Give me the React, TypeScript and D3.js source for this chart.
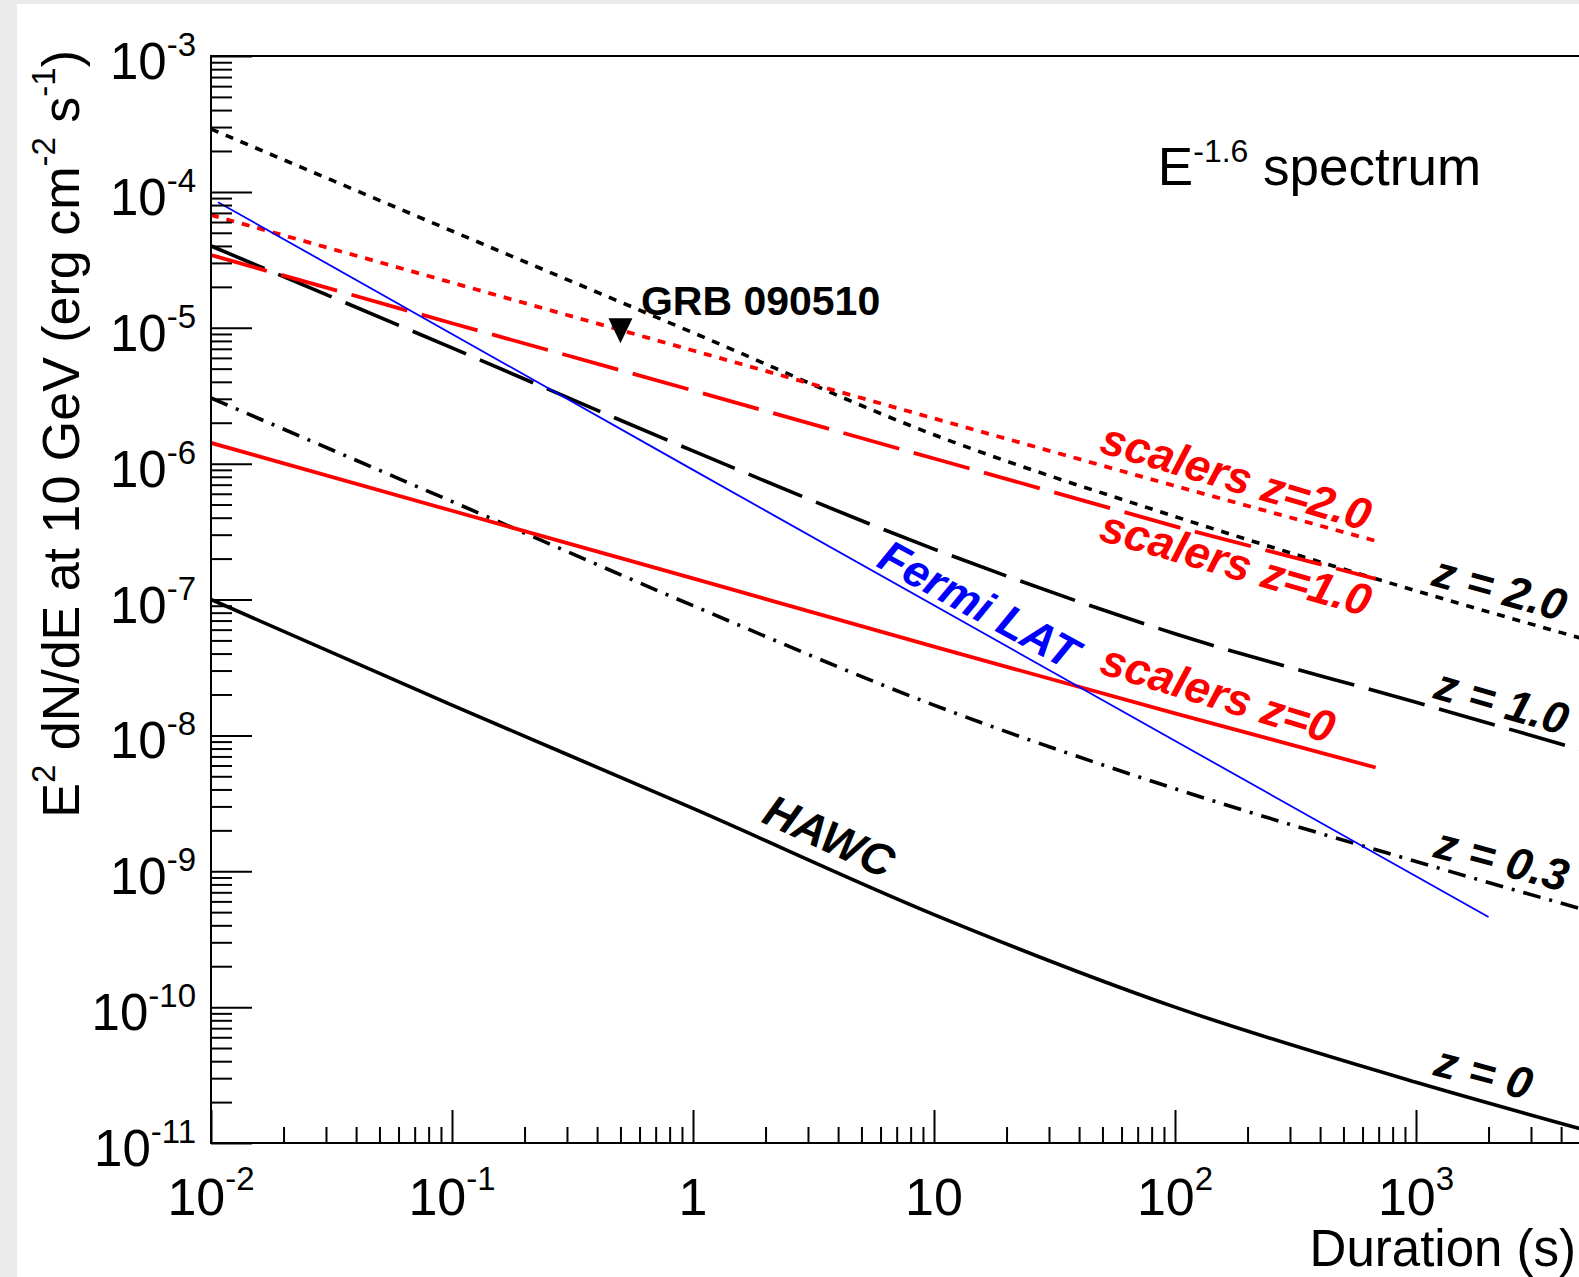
import React, { useRef, useEffect } from 'react'
import * as d3 from 'd3'

// HAWC sensitivity curves (read at these durations, s)
const hawcDurations = [0.01, 0.1, 1, 10, 100, 1000, 5000]
const hawcZ0 = [1.0e-7, 1.67e-8, 2.9e-9, 4.8e-10, 1.0e-10, 2.8e-11, 1.25e-11]
const hawcZ03 = [3.04e-6, 5.26e-7, 9.0e-8, 1.67e-8, 4.05e-9, 1.18e-9, 5.2e-10]
const hawcZ1 = [4.0e-5, 7.1e-6, 1.24e-6, 2.35e-7, 5.6e-8, 1.75e-8, 7.7e-9]
const hawcZ2 = [2.9e-4, 5.15e-5, 9.2e-6, 1.63e-6, 4.08e-7, 1.16e-7, 5.1e-8]

// scaler curves
const scalerDurations = [0.01, 0.1, 1, 10, 100, 680]
const scalersZ0 = [1.42e-6, 4.5e-7, 1.43e-7, 4.5e-8, 1.45e-8, 5.8e-9]
const scalersZ1 = [3.43e-5, 1.08e-5, 3.45e-6, 1.09e-6, 3.45e-7, 1.42e-7]
const scalersZ2 = [6.76e-5, 2.15e-5, 6.8e-6, 2.15e-6, 6.85e-7, 2.7e-7]

// Fermi LAT
const fermiDurations = [0.0107, 1, 2000]
const fermiLat = [8.4e-5, 9.0e-7, 4.6e-10]

// GRB 090510 upper limit
const grbDuration = 0.5
const grbFlux = 9.5e-6

// tick labels
const xTickValues = [1e-2, 1e-1, 1, 10, 100, 1000]
const xTickBases = ['10', '10', '1', '10', '10', '10']
const xTickExps = ['-2', '-1', '', '', '2', '3']
const yTickValues = [1e-3, 1e-4, 1e-5, 1e-6, 1e-7, 1e-8, 1e-9, 1e-10, 1e-11]
const yTickExps = ['-3', '-4', '-5', '-6', '-7', '-8', '-9', '-10', '-11']

const FONT = '"Liberation Sans", Arial, Helvetica, sans-serif'

const App = () => {
	const svgRef = useRef<SVGSVGElement>(null)

	useEffect(() => {
		const svg = d3.select(svgRef.current)
		svg.selectAll('*').remove()

		const width = 1579
		const height = 1277
		const plot = { left: 211, top: 56, bottom: 1143, right: 1657 }

		svg.attr('width', width).attr('height', height).style('font-family', FONT)

		// canvas background
		svg.append('rect').attr('width', width).attr('height', height).attr('fill', '#ebebeb')
		svg.append('rect').attr('x', 17).attr('y', 4).attr('width', width).attr('height', height).attr('fill', '#fff')

		const x = d3.scaleLog().domain([1e-2, 1e4]).range([plot.left, plot.right])
		const y = d3.scaleLog().domain([1e-11, 1e-3]).range([plot.bottom, plot.top])

		svg
			.append('clipPath')
			.attr('id', 'plotClip')
			.append('rect')
			.attr('x', plot.left)
			.attr('y', plot.top)
			.attr('width', plot.right - plot.left)
			.attr('height', plot.bottom - plot.top)

		const series = [
			{ t: hawcDurations, f: hawcZ0, color: '#000', w: 3.6, dash: null, curve: d3.curveMonotoneX },
			{ t: hawcDurations, f: hawcZ03, color: '#000', w: 3.6, dash: '18 9 3 9', curve: d3.curveMonotoneX },
			{ t: hawcDurations, f: hawcZ1, color: '#000', w: 3.6, dash: '58 15', curve: d3.curveMonotoneX },
			{ t: hawcDurations, f: hawcZ2, color: '#000', w: 3.6, dash: '8 8', curve: d3.curveMonotoneX },
			{ t: scalerDurations, f: scalersZ0, color: '#ff0000', w: 3.8, dash: null, curve: d3.curveLinear },
			{ t: scalerDurations, f: scalersZ1, color: '#ff0000', w: 3.8, dash: '58 15', curve: d3.curveLinear },
			{ t: scalerDurations, f: scalersZ2, color: '#ff0000', w: 3.8, dash: '8 8', curve: d3.curveLinear },
			{ t: fermiDurations, f: fermiLat, color: '#0000ff', w: 1.8, dash: null, curve: d3.curveLinear },
		]

		const lines = svg.append('g').attr('clip-path', 'url(#plotClip)')
		series.forEach(s => {
			const pts = s.t.map((t, i) => [t, s.f[i]] as [number, number])
			const gen = d3
				.line<[number, number]>()
				.x(d => x(d[0]))
				.y(d => y(d[1]))
				.curve(s.curve)
			lines
				.append('path')
				.datum(pts)
				.attr('fill', 'none')
				.attr('stroke', s.color)
				.attr('stroke-width', s.w)
				.attr('stroke-dasharray', s.dash)
				.attr('d', gen)
		})

		// GRB 090510 marker (downward triangle)
		const gx = x(grbDuration)
		const gy = y(grbFlux)
		lines
			.append('path')
			.attr('d', `M${gx - 12},${gy - 12.5}L${gx + 12},${gy - 12.5}L${gx},${gy + 12.5}Z`)
			.attr('fill', '#000')

		// frame
		svg
			.append('rect')
			.attr('x', plot.left)
			.attr('y', plot.top)
			.attr('width', plot.right - plot.left)
			.attr('height', plot.bottom - plot.top)
			.attr('fill', 'none')
			.attr('stroke', '#000')
			.attr('stroke-width', 2)

		const isMajor = (v: number) => Math.abs(Math.log10(v) - Math.round(Math.log10(v))) < 1e-6

		// y ticks
		const yTicks = y.ticks()
		const drawY = (vals: number[], len: number) => {
			const g = svg
				.append('g')
				.attr('transform', `translate(${plot.left},0)`)
				.call(d3.axisLeft(y).tickValues(vals).tickSize(-len).tickFormat(() => ''))
			g.select('.domain').remove()
			g.selectAll('line').attr('stroke', '#000').attr('stroke-width', 2)
		}
		drawY(yTicks.filter(v => !isMajor(v)), 21)
		drawY(yTicks.filter(isMajor), 41)

		// x ticks
		const xTicks = x.ticks()
		const drawX = (vals: number[], len: number) => {
			const g = svg
				.append('g')
				.attr('transform', `translate(0,${plot.bottom})`)
				.call(d3.axisBottom(x).tickValues(vals).tickSize(-len).tickFormat(() => ''))
			g.select('.domain').remove()
			g.selectAll('line').attr('stroke', '#000').attr('stroke-width', 2)
		}
		drawX(xTicks.filter(v => !isMajor(v)), 16)
		drawX(xTicks.filter(isMajor), 33)

		// y tick labels
		yTickValues.forEach((v, i) => {
			const t = svg
				.append('text')
				.attr('x', 196)
				.attr('y', y(v) + 23)
				.attr('text-anchor', 'end')
				.attr('font-size', 51)
				.text('10')
			t.append('tspan').attr('dy', -23).attr('font-size', 33).text(yTickExps[i])
		})

		// x tick labels
		xTickValues.forEach((v, i) => {
			const t = svg
				.append('text')
				.attr('x', x(v))
				.attr('y', 1215)
				.attr('text-anchor', 'middle')
				.attr('font-size', 52)
				.text(xTickBases[i])
			if (xTickExps[i]) t.append('tspan').attr('dy', -25).attr('font-size', 33).text(xTickExps[i])
		})

		// axis titles
		svg
			.append('text')
			.attr('x', 1576)
			.attr('y', 1266)
			.attr('text-anchor', 'end')
			.attr('font-size', 51)
			.text('Duration (s)')

		const yt = svg
			.append('text')
			.attr('transform', 'translate(79,50) rotate(-90)')
			.attr('text-anchor', 'end')
			.attr('font-size', 52)
			.style('white-space', 'pre')
		yt.append('tspan').text('E')
		yt.append('tspan').attr('dy', -24).attr('font-size', 33).text('2')
		yt.append('tspan').attr('dy', 24).text(' dN/dE at 10 GeV (erg cm')
		yt.append('tspan').attr('dy', -24).attr('font-size', 33).text('-2')
		yt.append('tspan').attr('dy', 24).text(' s')
		yt.append('tspan').attr('dy', -24).attr('font-size', 33).text('-1')
		yt.append('tspan').attr('dy', 24).text(')')

		// spectrum note
		const sp = svg
			.append('text')
			.attr('x', x(84.9))
			.attr('y', y(1.12e-4))
			.attr('font-size', 53)
			.style('white-space', 'pre')
		sp.append('tspan').text('E')
		sp.append('tspan').attr('dy', -23).attr('font-size', 32).text('-1.6')
		sp.append('tspan').attr('dy', 23).text(' spectrum')

		// GRB label
		svg
			.append('text')
			.attr('x', x(0.608))
			.attr('y', y(1.24e-5))
			.attr('font-size', 41)
			.attr('font-weight', 'bold')
			.text('GRB 090510')

		// curve labels
		const curveLabels = [
			{ text: 'HAWC', t: 1.9, f: 2.31e-9, angle: 24.5, color: '#000' },
			{ text: 'Fermi LAT', t: 5.69, f: 1.77e-7, angle: 28.5, color: '#0000ff' },
			{ text: 'scalers z=2.0', t: 47.9, f: 1.22e-6, angle: 16.5, color: '#ff0000' },
			{ text: 'scalers z=1.0', t: 47.7, f: 2.75e-7, angle: 16, color: '#ff0000' },
			{ text: 'scalers z=0', t: 47.9, f: 2.88e-8, angle: 17, color: '#ff0000' },
			{ text: 'z = 2.0', t: 1143, f: 1.28e-7, angle: 15.5, color: '#000' },
			{ text: 'z = 1.0', t: 1164, f: 1.89e-8, angle: 16, color: '#000' },
			{ text: 'z = 0.3', t: 1164, f: 1.28e-9, angle: 15, color: '#000' },
			{ text: 'z = 0', t: 1164, f: 3.18e-11, angle: 15, color: '#000' },
		]
		curveLabels.forEach(l => {
			svg
				.append('text')
				.attr('transform', `translate(${x(l.t)},${y(l.f)}) rotate(${l.angle})`)
				.attr('font-size', 45)
				.attr('font-weight', 'bold')
				.attr('font-style', 'italic')
				.attr('fill', l.color)
				.style('white-space', 'pre')
				.text(l.text)
		})
	}, [])

	return (
		<div style={{ position: 'absolute', left: 0, top: 0 }}>
			<svg ref={svgRef} style={{ display: 'block' }}></svg>
		</div>
	)
}

export default App
